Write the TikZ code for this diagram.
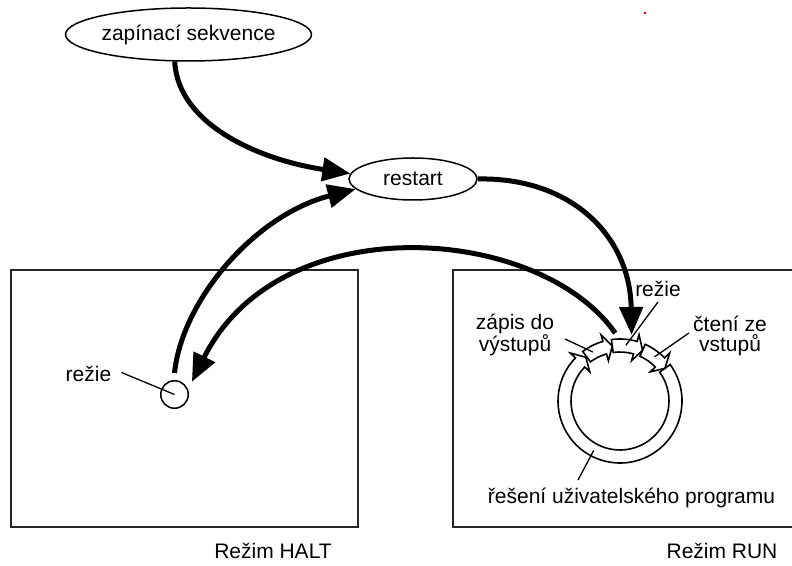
\documentclass[tikz,border=0pt]{standalone}
\usepackage{fontspec}
\setmainfont{Liberation Sans}
\usetikzlibrary{arrows.meta,shapes.geometric}

\tikzset{
  lbl/.style={font=\fontsize{21}{20}\selectfont, inner sep=0pt},
  bigarrow/.style={line width=5pt, -{Triangle[length=28pt,width=23pt]}},
  leader/.style={line width=1.3pt},
  modebox/.style={line width=2pt, draw=black!85},
  oval/.style={ellipse, draw, line width=1.5pt, lbl},
  seg/.style={line width=1.6pt, fill=white},
}

% one piece of the scan ring: #1 tail angle, #2 head angle
\newcommand{\ringseg}[2]{%
  \draw[seg, shift={(ring)}] (#1:62) arc[start angle=#1, end angle=#2, radius=62]
    -- (#2:69) -- ({#2-8}:55.5) -- (#2:42) -- (#2:49)
    arc[start angle=#2, end angle=#1, radius=49] -- cycle;}

\begin{document}
\begin{tikzpicture}[x=1pt,y=1pt]
    \useasboundingbox (0,0) rectangle (792,565);
    % boxes of the two modes
    \draw[modebox] (11,38.5) rectangle (358,294.5);
    \draw[modebox] (792,294.5) -- (453,294.5) -- (453,38.5) -- (792,38.5);
    \node[lbl, anchor=base] (halt) at (273,7) {Režim HALT};
    \node[lbl, anchor=base] (run) at (722,7) {Režim RUN};
    \fill[red!80!black] (645,552) circle (1.3);
    % ellipses
    \node[oval, minimum width=229pt, minimum height=53pt] (seq) at (188.5,530.5) {zapínací sekvence};
    \node[oval, minimum width=128pt, minimum height=42pt] (rst) at (413,386) {restart};
    % HALT: overhead only
    \node[circle, draw, line width=1.5pt, minimum size=27.5pt, inner sep=0pt] (hc) at (174.5,170.5) {};
    \node[lbl, anchor=base] (lr) at (88.5,183) {režie};
    \draw[leader] ([shift={(10pt,2pt)}]lr.east) -- (hc.center);
    % RUN: scan ring
    \coordinate (ring) at (620,164);
    \ringseg{36}{-224}
    \ringseg{127}{106}
    \ringseg{98}{74}
    \ringseg{66}{44}
    \node[lbl, align=center, anchor=base] (zap) at (515,213) {zápis do\\výstupů};
    \node[lbl, anchor=base] (rr) at (658,268) {režie};
    \node[lbl, align=center, anchor=base] (cte) at (730,213) {čtení ze\\vstupů};
    \node[lbl, anchor=base] (prg) at (631.5,62) {řešení uživatelského programu};
    \draw[leader] ([shift={(50pt,13pt)}]zap.base) -- ([shift={(119:56)}]ring);
    \draw[leader] ([shift={(0pt,-5pt)}]rr.base) -- ([shift={(84:56)}]ring);
    \draw[leader] ([shift={(-41pt,19pt)}]cte.base) -- ([shift={(52:56)}]ring);
    \draw[leader] ([shift={(-53.5pt,23pt)}]prg.base) -- ([shift={(242:56)}]ring);
    % big arrows
    \coordinate (rtop) at ([shift={(80:67)}]ring);
    \coordinate (rout) at ([shift={(94:68)}]ring);
    \coordinate (hin) at ([shift={(36:21.5)}]hc.center);
    \draw[bigarrow] (seq.-117) .. controls (178,440) and (260,405) .. (rst.175);
    \draw[bigarrow] ([yshift=7pt]hc.north) .. controls (182,265) and (255,350) .. (rst.190);
    \draw[bigarrow] (rst.east) .. controls (570,388) and (630,330) .. (rtop);
    \draw[bigarrow] (rout) .. controls (540,340) and (280,360) .. (hin);
\end{tikzpicture}
\end{document}
